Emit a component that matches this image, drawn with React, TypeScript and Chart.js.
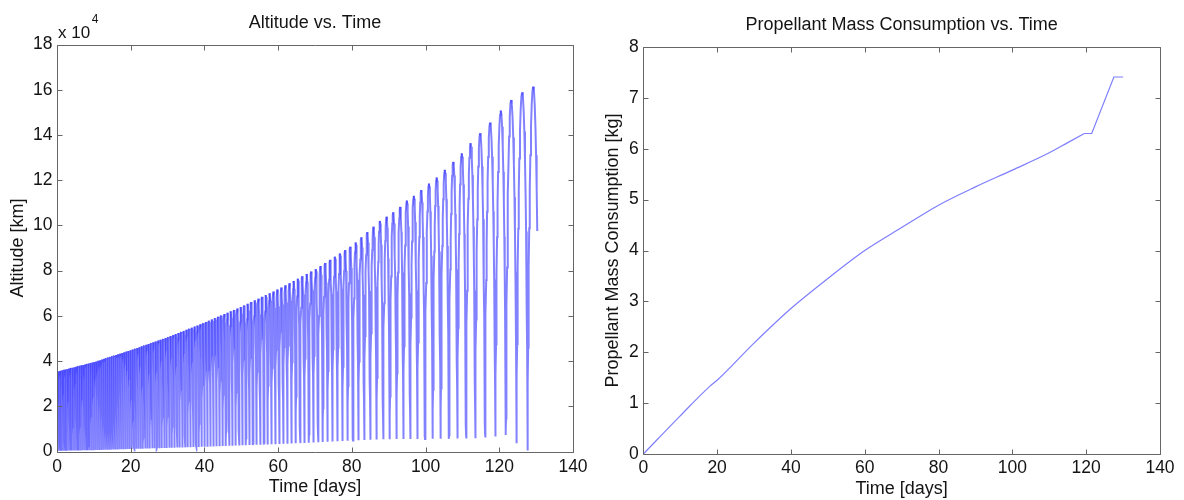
import React, { useEffect, useRef } from 'react';
import { Chart, registerables } from 'chart.js';

Chart.register(...registerables);

// ---------------- Axis setup ----------------
const TIME_MIN = 0;
const TIME_MAX = 140;
const TIME_STEP = 20;
const ALT_MIN = 0;
const ALT_MAX = 180000;
const ALT_STEP = 20000;
const ALT_TICK_SCALE = 1e4; // tick labels shown as "x 10^4"
const MASS_MIN = 0;
const MASS_MAX = 8;
const MASS_STEP = 1;

// ---------------- Altitude vs. Time (km) ----------------
// Early part: orbits are too dense to read one by one, so the envelope is read
const apogeeEnvDays = [0, 10, 20, 30, 40, 50, 60, 70, 80, 87.6];
const apogeeEnvKm = [35300, 39500, 44800, 50500, 57000, 64000, 71800, 80500, 91000, 102000];
const perigeeEnvDays = [0, 10, 20, 30, 40, 50, 60, 70, 80, 88.5];
const perigeeEnvKm = [300, 600, 1100, 1600, 2100, 2700, 3300, 4000, 4800, 5400];
const periodEnvDays = [0, 20, 40, 60, 80, 87.6];
const periodEnvValues = [0.44, 0.58, 0.78, 1.06, 1.42, 1.75];
// Late part: each orbit readable (apogee time, apogee height, following perigee height)
const lateApogeeDays = [87.6, 89.4, 91.2, 93.1, 94.9, 96.8, 98.8, 100.9, 103.0, 105.2, 107.5, 109.8, 112.2, 114.8, 117.5, 120.4, 123.2, 126.2, 129.2];
const lateApogeeKm = [102000, 103900, 105800, 108200, 111000, 113100, 115600, 118500, 121200, 124600, 128100, 131900, 136400, 140800, 145500, 150800, 155500, 158900, 161400];
const latePerigeeKm = [5400, 5400, 5500, 5500, 5500, 5500, 5500, 5600, 5600, 5600, 5700, 5800, 5900, 6200, 6600, 7300, 3600, 400, 300];
const finalPeriodDays = 3.05;
const altitudeEndDay = 130.3;

// ---------------- Propellant Mass Consumption vs. Time (kg) ----------------
// smooth part of the curve
const massDays = [0, 10, 18, 20, 30, 40, 50, 60, 70, 80, 90, 100, 110, 115, 119.5];
const massKg = [0, 0.75, 1.33, 1.45, 2.18, 2.86, 3.45, 4.0, 4.45, 4.89, 5.25, 5.58, 5.92, 6.12, 6.3];
// final flat step, steep burn and end plateau
const massTailDays = [119.5, 121.5, 127.5, 130];
const massTailKg = [6.3, 6.3, 7.41, 7.41];

// ---------------- helpers ----------------
const R_EARTH = 6378;

function lerp(xs: number[], ys: number[], x: number): number {
  if (x <= xs[0]) return ys[0];
  if (x >= xs[xs.length - 1]) return ys[ys.length - 1];
  for (let i = 1; i < xs.length; i++) {
    if (x <= xs[i]) {
      const f = (x - xs[i - 1]) / (xs[i] - xs[i - 1]);
      return ys[i - 1] + f * (ys[i] - ys[i - 1]);
    }
  }
  return ys[ys.length - 1];
}

type Pt = { x: number; y: number };

// one array of points per orbit (apogee -> perigee -> next apogee)
function buildAltitudeOrbits(): Pt[][] {
  const apoT = [...lateApogeeDays];
  const apoH = [...lateApogeeKm];
  const periH = [...latePerigeeKm];
  let t = apoT[0];
  while (t > 0) {
    const P = lerp(periodEnvDays, periodEnvValues, t);
    const tPrev = t - P;
    apoT.unshift(tPrev);
    apoH.unshift(lerp(apogeeEnvDays, apogeeEnvKm, tPrev));
    periH.unshift(lerp(perigeeEnvDays, perigeeEnvKm, (tPrev + t) / 2));
    t = tPrev;
  }
  const orbits: Pt[][] = [];
  const N = 14;
  for (let k = 0; k < apoT.length; k++) {
    const pts: Pt[] = [];
    const tA = apoT[k];
    const last = k === apoT.length - 1;
    const tNext = last ? tA + finalPeriodDays : apoT[k + 1];
    const half = (tNext - tA) / 2;
    {
      const ra = apoH[k] + R_EARTH;
      const rp = periH[k] + R_EARTH;
      const a = (ra + rp) / 2;
      const e = (ra - rp) / (ra + rp);
      for (let i = 0; i <= N; i++) {
        const E = Math.PI + (Math.PI * i) / N;
        const M = E - e * Math.sin(E);
        const time = tA + ((M - Math.PI) / Math.PI) * half;
        if (last && time > altitudeEndDay) {
          const Mend = Math.PI + (Math.PI * (altitudeEndDay - tA)) / half;
          let lo = Math.PI;
          let hi = 2 * Math.PI;
          for (let j = 0; j < 60; j++) {
            const mid = (lo + hi) / 2;
            if (mid - e * Math.sin(mid) < Mend) lo = mid;
            else hi = mid;
          }
          pts.push({ x: altitudeEndDay, y: a * (1 - e * Math.cos(lo)) - R_EARTH });
          break;
        }
        pts.push({ x: time, y: a * (1 - e * Math.cos(E)) - R_EARTH });
      }
    }
    if (!last) {
      const ra = apoH[k + 1] + R_EARTH;
      const rp = periH[k] + R_EARTH;
      const a = (ra + rp) / 2;
      const e = (ra - rp) / (ra + rp);
      for (let i = 1; i <= N; i++) {
        const E = (Math.PI * i) / N;
        const M = E - e * Math.sin(E);
        const time = tA + half + (M / Math.PI) * half;
        pts.push({ x: time, y: a * (1 - e * Math.cos(E)) - R_EARTH });
      }
    }
    orbits.push(pts);
  }
  return orbits;
}

// ---------------- styles ----------------
const FONT_FAMILY = "'Liberation Sans', Arial, Helvetica, sans-serif";
const TEXT_COLOR = '#141414';
const AXIS_COLOR = '#666666';
const ALT_LINE_COLOR = 'rgba(40,40,255,0.58)';
const MASS_LINE_COLOR = 'rgba(40,40,255,0.6)';

const matlabAxesPlugin = {
  id: 'matlabAxes',
  afterDraw(chart: any) {
    const { ctx, chartArea, scales } = chart;
    const { left, right, top, bottom } = chartArea;
    const L = Math.round(left) + 0.5;
    const Rr = Math.round(right) + 0.5;
    const T = Math.round(top) + 0.5;
    const B = Math.round(bottom) + 0.5;
    const tickLen = 5;
    ctx.save();
    ctx.strokeStyle = AXIS_COLOR;
    ctx.lineWidth = 1;
    ctx.beginPath();
    ctx.rect(L, T, Rr - L, B - T);
    const xs = scales.x;
    const ys = scales.y;
    xs.ticks.forEach((tk: any) => {
      const px = Math.round(xs.getPixelForValue(tk.value)) + 0.5;
      ctx.moveTo(px, B);
      ctx.lineTo(px, B - tickLen);
      ctx.moveTo(px, T);
      ctx.lineTo(px, T + tickLen);
    });
    ys.ticks.forEach((tk: any) => {
      const py = Math.round(ys.getPixelForValue(tk.value)) + 0.5;
      ctx.moveTo(L, py);
      ctx.lineTo(L + tickLen, py);
      ctx.moveTo(Rr, py);
      ctx.lineTo(Rr - tickLen, py);
    });
    ctx.stroke();
    const opts = chart.options.plugins.matlabAxes || {};
    if (opts.exponent) {
      ctx.fillStyle = TEXT_COLOR;
      ctx.textBaseline = 'middle';
      ctx.textAlign = 'left';
      ctx.font = `17px ${FONT_FAMILY}`;
      const base = 'x 10';
      const x0 = left + 1;
      ctx.fillText(base, x0, top - 11);
      const w = ctx.measureText(base).width;
      ctx.font = `12px ${FONT_FAMILY}`;
      ctx.fillText(opts.exponent, x0 + w + 1.5, top - 24.5);
    }
    ctx.restore();
  },
};

function makeOptions(cfg: {
  title: string;
  titlePad: { top: number; bottom: number };
  padRight: number;
  xHeight: number;
  xTitlePadBottom: number;
  xTickPad: number;
  yWidth: number;
  yTitlePadTop: number;
  yTitle: string;
  yMin: number;
  yMax: number;
  yStep: number;
  yCallback: (v: number) => string;
  exponent?: string;
}) {
  const font = { family: FONT_FAMILY, size: 18, weight: 'normal' as const };
  const tickFont = { family: FONT_FAMILY, size: 17.5, weight: 'normal' as const };
  return {
    animation: false as const,
    responsive: false,
    devicePixelRatio: 1,
    events: [],
    layout: { padding: { left: 0, right: cfg.padRight, top: 0, bottom: 0 } },
    plugins: {
      legend: { display: false },
      tooltip: { enabled: false },
      title: {
        display: true,
        text: cfg.title,
        fullSize: false,
        color: TEXT_COLOR,
        font,
        padding: cfg.titlePad,
      },
      matlabAxes: { exponent: cfg.exponent },
    },
    scales: {
      x: {
        type: 'linear' as const,
        min: TIME_MIN,
        max: TIME_MAX,
        grid: { display: false, drawTicks: false },
        border: { display: false },
        ticks: {
          stepSize: TIME_STEP,
          color: TEXT_COLOR,
          font: tickFont,
          padding: cfg.xTickPad,
          maxRotation: 0,
          autoSkip: false,
        },
        title: {
          display: true,
          text: 'Time [days]',
          color: TEXT_COLOR,
          font,
          padding: { top: 0, bottom: cfg.xTitlePadBottom },
        },
        afterFit: (s: any) => {
          s.height = cfg.xHeight;
        },
      },
      y: {
        type: 'linear' as const,
        min: cfg.yMin,
        max: cfg.yMax,
        grid: { display: false, drawTicks: false },
        border: { display: false },
        ticks: {
          stepSize: cfg.yStep,
          color: TEXT_COLOR,
          font: tickFont,
          padding: 4.5,
          autoSkip: false,
          callback: (v: any) => cfg.yCallback(Number(v)),
        },
        title: {
          display: true,
          text: cfg.yTitle,
          color: TEXT_COLOR,
          font,
          padding: { top: cfg.yTitlePadTop, bottom: 0 },
        },
        afterFit: (s: any) => {
          s.width = cfg.yWidth;
        },
      },
    },
  };
}

export default function App() {
  const leftRef = useRef<HTMLCanvasElement | null>(null);
  const rightRef = useRef<HTMLCanvasElement | null>(null);

  useEffect(() => {
    if (!leftRef.current || !rightRef.current) return;
    const orbits = buildAltitudeOrbits();
    const massPoints = massDays.map((d, i) => ({ x: d, y: massKg[i] }));
    const massTailPoints = massTailDays.map((d, i) => ({ x: d, y: massTailKg[i] }));

    const left = new Chart(leftRef.current, {
      type: 'line',
      data: {
        datasets: orbits.map((pts) => ({
          data: pts,
          borderColor: ALT_LINE_COLOR,
          borderWidth: 2,
          pointRadius: 0,
          tension: 0,
          fill: false,
        })),
      },
      options: makeOptions({
        title: 'Altitude vs. Time',
        titlePad: { top: 12.5, bottom: 10.5 },
        padRight: 600 - 573,
        xHeight: 48.5,
        xTitlePadBottom: 2,
        xTickPad: 5,
        yWidth: 57,
        yTitlePadTop: 7.5,
        yTitle: 'Altitude [km]',
        yMin: ALT_MIN,
        yMax: ALT_MAX,
        yStep: ALT_STEP,
        yCallback: (v) => String(Math.round(v / ALT_TICK_SCALE)),
        exponent: '4',
      }) as any,
      plugins: [matlabAxesPlugin],
    });

    const right = new Chart(rightRef.current, {
      type: 'line',
      data: {
        datasets: [
          {
            data: massPoints,
            borderColor: MASS_LINE_COLOR,
            borderWidth: 1.2,
            pointRadius: 0,
            cubicInterpolationMode: 'monotone',
            fill: false,
          },
          {
            data: massTailPoints,
            borderColor: MASS_LINE_COLOR,
            borderWidth: 1.2,
            pointRadius: 0,
            tension: 0,
            fill: false,
          },
        ],
      },
      options: makeOptions({
        title: 'Propellant Mass Consumption vs. Time',
        titlePad: { top: 14.2, bottom: 11.2 },
        padRight: 584 - 560,
        xHeight: 46,
        xTitlePadBottom: 0,
        xTickPad: 4,
        yWidth: 43.3,
        yTitlePadTop: 2,
        yTitle: 'Propellant Mass Consumption [kg]',
        yMin: MASS_MIN,
        yMax: MASS_MAX,
        yStep: MASS_STEP,
        yCallback: (v) => String(v),
      }) as any,
      plugins: [matlabAxesPlugin],
    });

    return () => {
      left.destroy();
      right.destroy();
    };
  }, []);

  return (
    <div
      style={{
        position: 'fixed',
        left: 0,
        top: 0,
        width: 1184,
        height: 500,
        background: '#ffffff',
        overflow: 'hidden',
      }}
    >
      <canvas
        ref={leftRef}
        width={600}
        height={500}
        style={{ position: 'absolute', left: 0, top: 0, width: 600, height: 500 }}
      />
      <canvas
        ref={rightRef}
        width={584}
        height={500}
        style={{ position: 'absolute', left: 600, top: 0, width: 584, height: 500 }}
      />
    </div>
  );
}
